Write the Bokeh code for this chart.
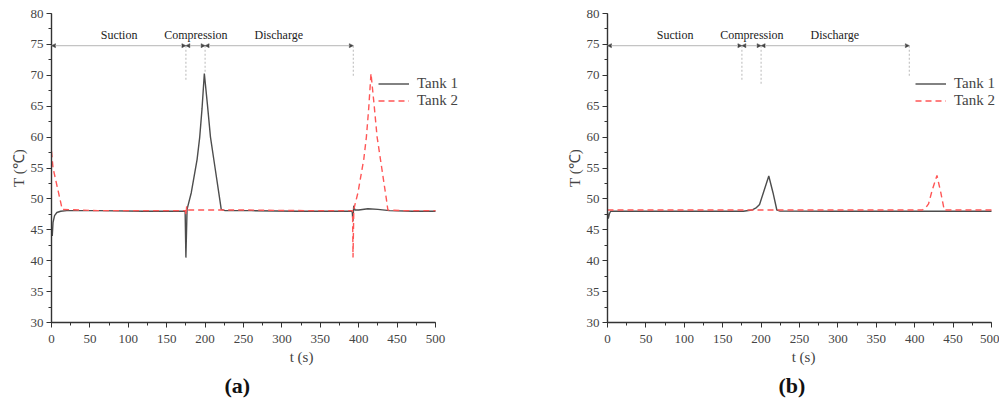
from bokeh.plotting import figure
from bokeh.layouts import row
from bokeh.models import (Range1d, SingleIntervalTicker, Arrow, NormalHead,
                          Title)
from bokeh.embed import file_html
from bokeh.resources import INLINE
from bokeh.core.properties import value

# ---------------- data: panel (a) ----------------
a_tank1_t = [0, 1, 2, 4, 7, 12, 20, 60, 120, 174, 175, 176.5, 182, 189.6, 193, 196, 199,
             203, 207, 213, 219, 221, 226, 260, 320, 391.5, 392.5, 393.5, 395,
             400, 412, 425, 440, 470, 500]
a_tank1_T = [44.6, 44.0, 46.2, 47.3, 47.8, 48.0, 48.1, 48.1, 48.0, 48.0, 40.5, 48.3, 51.0, 56.4, 60.0, 64.6, 70.3,
             65.3, 60.0, 55.0, 50.0, 48.3, 48.1, 48.1, 48.0, 48.0, 46.4, 48.9, 48.2,
             48.2, 48.4, 48.3, 48.1, 48.0, 48.0]
a_tank2_t = [0, 2, 14, 60, 120, 174.5, 175.2, 176.0, 177, 250, 330, 392, 392.6, 393.6, 399, 406.6, 410, 413, 416,
             420, 424, 430, 436, 438, 460, 500]
a_tank2_T = [57.7, 55.0, 48.3, 48.1, 48.1, 48.1, 47.4, 48.8, 48.2, 48.2, 48.1, 48.1, 40.5, 48.3, 51.0, 56.4, 60.0, 64.6, 70.3,
             65.3, 60.0, 55.0, 50.0, 48.2, 48.1, 48.1]

# ---------------- data: panel (b) ----------------
b_tank1_t = [0, 1, 2.5, 4, 20, 100, 177, 188, 194, 198, 204, 210, 215.5, 220.5, 224, 300, 400, 500]
b_tank1_T = [47.9, 46.8, 47.6, 48.0, 48.0, 48.0, 48.0, 48.2, 48.6, 49.1, 51.4, 53.7, 51.0, 48.2, 48.05, 48.0, 48.0, 48.0]
b_tank2_t = [0, 100, 200, 300, 410, 414, 418, 423, 429, 434, 438.5, 460, 500]
b_tank2_T = [48.2, 48.2, 48.2, 48.2, 48.2, 48.5, 49.2, 51.5, 53.8, 51.0, 48.2, 48.2, 48.2]

# ---------------- annotations ----------------
phase_names = ["Suction", "Compression", "Discharge"]
phase_bounds = [0, 175, 200, 393]
phase_label_t = [88, 188, 296]
phase_label_T = 76.6
phase_line_T = 74.8
a_marker_bottom = [69.0, 70.5, 69.9]
b_marker_bottom = [69.0, 68.3, 69.9]

series_names = ["Tank 1", "Tank 2"]
panel_tags = ["(a)", "(b)"]
t_max = 500

SERIF = "Liberation Serif"
LINE1 = "#4d4d4d"
LINE2 = "#ff5656"
PX_PER_500 = 384  # frame pixels spanning t = 0..500


def make_panel(t1, T1, t2, T2, bottoms, tag, frame_w, border_right, legend_x, tag_offset):
    x_end = t_max * frame_w / PX_PER_500
    p = figure(frame_width=frame_w, frame_height=309, output_backend="svg",
               toolbar_location=None, x_range=Range1d(0, x_end), y_range=Range1d(30, 80),
               min_border_left=51, min_border_right=border_right,
               min_border_top=13, min_border_bottom=70)
    p.outline_line_color = None
    p.xgrid.visible = False
    p.ygrid.visible = False
    p.background_fill_color = "white"
    p.border_fill_color = "white"

    p.xaxis.ticker = SingleIntervalTicker(interval=50, num_minor_ticks=2)
    p.yaxis.ticker = SingleIntervalTicker(interval=5, num_minor_ticks=2)
    p.xaxis.bounds = (0, t_max)
    for ax in (p.xaxis, p.yaxis):
        ax.axis_line_color = "#333333"
        ax.axis_line_width = 1.4
        ax.major_tick_line_color = "#333333"
        ax.minor_tick_line_color = "#333333"
        ax.major_tick_in = 0
        ax.major_tick_out = 5
        ax.minor_tick_in = 0
        ax.minor_tick_out = 3
        ax.major_label_text_font = SERIF
        ax.major_label_text_font_size = "13px"
        ax.major_label_text_color = "#444444"
        ax.axis_label_text_font = SERIF
        ax.axis_label_text_font_size = "15px"
        ax.axis_label_text_font_style = "normal"
        ax.axis_label_text_color = "#444444"
    p.xaxis.major_label_standoff = 7
    p.yaxis.major_label_standoff = 3
    p.xaxis.axis_label = "t (s)"
    p.yaxis.axis_label = "T (℃)"
    p.xaxis.axis_label_standoff = 3
    p.yaxis.axis_label_standoff = 1

    # phase annotations
    for i in range(3):
        p.add_layout(Arrow(
            start=NormalHead(size=4, fill_color="#444444", line_color="#444444", line_width=0.5),
            end=NormalHead(size=4, fill_color="#444444", line_color="#444444", line_width=0.5),
            x_start=phase_bounds[i], x_end=phase_bounds[i + 1],
            y_start=phase_line_T, y_end=phase_line_T,
            line_color="#c4c4c4", line_width=1.3))
    p.segment(x0=phase_bounds[1:], y0=[phase_line_T] * 3, x1=phase_bounds[1:], y1=bottoms,
              line_color="#c4c4c4", line_dash="2 2", line_width=1.2)
    p.text(x=phase_label_t, y=[phase_label_T] * 3, text=phase_names,
           text_font=value(SERIF), text_font_size="12px", text_color="#222222",
           text_align="center", text_baseline="middle")

    # series
    p.line(t1, T1, line_color=LINE1, line_width=1.4, legend_label=series_names[0])
    p.line(t2, T2, line_color=LINE2, line_width=1.4, line_dash="6 4", legend_label=series_names[1])

    lg = p.legend[0]
    lg.location = (legend_x, 213)
    lg.border_line_color = None
    lg.background_fill_alpha = 0
    lg.padding = 0
    lg.margin = 0
    lg.spacing = 0
    lg.glyph_width = 31
    lg.glyph_height = 17
    lg.label_height = 17
    lg.label_standoff = 8
    lg.label_text_font = SERIF
    lg.label_text_font_size = "15px"
    lg.label_text_color = "#444444"

    p.add_layout(Title(text=tag, align="left", offset=tag_offset, text_font=SERIF,
                       text_font_size="22px", text_font_style="bold",
                       text_color="#111111", standoff=7), "below")
    return p


p1 = make_panel(a_tank1_t, a_tank1_T, a_tank2_t, a_tank2_T, a_marker_bottom, panel_tags[0],
                500, 5, 327, 173)
p2 = make_panel(b_tank1_t, b_tank1_T, b_tank2_t, b_tank2_T, b_marker_bottom, panel_tags[1],
                392, 0, 308, 171)

layout = row(p1, p2)
open("out.html", "w").write(file_html(layout, INLINE))
